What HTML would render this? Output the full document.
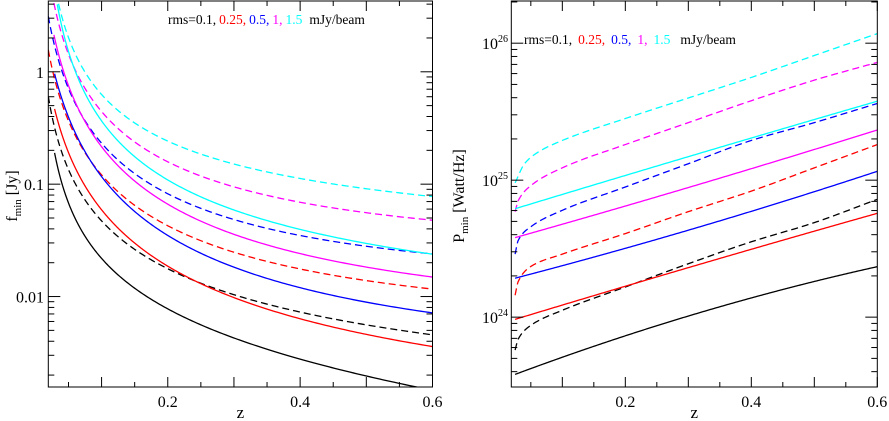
<!DOCTYPE html>
<html><head><meta charset="utf-8"><style>
html,body{margin:0;padding:0;background:#fff}
svg{display:block;font-family:"Liberation Serif",serif}
</style></head><body>
<svg id="chart" width="889" height="421" viewBox="0 0 889 421" xmlns="http://www.w3.org/2000/svg">
<defs>
<clipPath id="clipL"><rect x="48" y="1" width="384.5" height="386"/></clipPath>
<clipPath id="clipR"><rect x="511" y="1" width="366.5" height="386"/></clipPath>
</defs>
<g id="left"></g>
<g id="right"></g>
</svg>
<script>
// ---- Left panel data: log10 f_min [Jy] vs z ----
const colors = ['black','red','blue','magenta','cyan'];
const rmsLabels = ['0.1','0.25','0.5','1','1.5'];
const zL_a = [0.067,0.1,0.173,0.279,0.37,0.5,0.6];
const L_blackSolidZ = [0.029].concat(zL_a);
const L_blackSolid = [-0.716,-1.396,-1.678,-1.973,-2.299,-2.559,-2.728,-2.802];
const L_blackDashZ = [0.0195].concat(zL_a);
const L_blackDash = [-0.213,-1.101,-1.322,-1.589,-1.973,-2.145,-2.254,-2.314];
const L_redSolidZ = [0.029].concat(zL_a);
const L_redSolid = [-0.317,-1.0,-1.189,-1.559,-1.997,-2.186,-2.343,-2.417];
const L_redDashZ = [0.0195].concat(zL_a);
const L_redDash = [0.201,-0.701,-0.864,-1.234,-1.604,-1.746,-1.855,-1.914];
const L_blueSolidZ = [0.029].concat(zL_a);
const L_blueSolid = [-0.006,-0.686,-0.879,-1.322,-1.716,-1.885,-2.068,-2.121];
const L_blueDashZ = [0.0195].concat(zL_a);
const L_blueDash = [0.497,-0.391,-0.598,-0.982,-1.299,-1.426,-1.553,-1.612];
const L_magSolidZ = [0.028].concat(zL_a);
const L_magSolid = [0.334,-0.391,-0.627,-1.071,-1.411,-1.583,-1.737,-1.820];
const L_magDashZ = [0.028].concat(zL_a);
const L_magDash = [0.615,-0.095,-0.317,-0.716,-1.003,-1.115,-1.263,-1.314];
const L_cyanSolidZ = [0.033].concat(zL_a);
const L_cyanSolid = [0.615,-0.169,-0.361,-0.849,-1.204,-1.373,-1.530,-1.609];
const L_cyanDashZ = [0.035].concat(zL_a);
const L_cyanDash = [0.615,0.038,-0.169,-0.524,-0.790,-0.932,-1.050,-1.095];
const L_yTickLabels = ['0.01','0.1','1'];
const L_yTickLogs = [-2,-1,0];

// ---- Right panel data: log10 P_min [W/Hz] vs z ----
const zR_a = [0.1,0.2,0.3,0.4,0.5,0.6];
const R_cyanDashZ = [0.025,0.04,0.06].concat(zR_a);
const R_cyanDash = [24.98,25.12,25.20,25.29,25.45,25.60,25.75,25.91,26.07];
const R_magDashZ = [0.025,0.03,0.05].concat(zR_a);
const R_magDash = [24.77,24.85,24.96,25.09,25.26,25.42,25.58,25.73,25.86];
const R_cyanSolidZ = [0.025].concat(zR_a);
const R_cyanSolid = [24.80,24.89,25.02,25.18,25.31,25.45,25.57];
const R_blueDashZ = [0.025,0.03,0.05].concat(zR_a);
const R_blueDash = [24.46,24.56,24.66,24.78,24.95,25.12,25.29,25.42,25.56];
const R_magSolidZ = [0.025].concat(zR_a);
const R_magSolid = [24.59,24.67,24.80,24.95,25.09,25.23,25.36];
const R_redDashZ = [0.025,0.03,0.05].concat(zR_a);
const R_redDash = [24.16,24.26,24.37,24.46,24.61,24.77,24.92,25.09,25.26];
const R_blueSolidZ = [0.025].concat(zR_a);
const R_blueSolid = [24.29,24.37,24.50,24.63,24.78,24.92,25.06];
const R_blackDashZ = [0.025,0.03,0.05].concat(zR_a);
const R_blackDash = [23.76,23.84,23.94,24.05,24.22,24.39,24.55,24.69,24.86];
const R_redSolidZ = [0.025].concat(zR_a);
const R_redSolid = [23.99,24.08,24.22,24.37,24.50,24.62,24.76];
const R_blackSolidZ = [0.025].concat(zR_a);
const R_blackSolid = [23.59,23.70,23.86,24.00,24.15,24.27,24.36];
const R_yTickExps = [24,25,26];
const xTickLabels = ['0.2','0.4','0.6'];

const NS='http://www.w3.org/2000/svg';
function mk(tag, attrs, parent){const e=document.createElementNS(NS,tag);for(const k in attrs)e.setAttribute(k,attrs[k]);parent.appendChild(e);return e;}

// least-squares polynomial fit of value vs log10(z) (logx) or z, sampled densely
function fitSamples(zs, vs, N, deg, logx){
  const fw=logx?(z=>Math.log10(z)):(z=>z), bw=logx?(u=>Math.pow(10,u)):(u=>u);
  const u=zs.map(fw);
  const n=deg+1;
  const A=[];for(let i=0;i<n;i++){A.push(new Array(n+1).fill(0));}
  for(let k=0;k<u.length;k++){
    for(let i=0;i<n;i++){
      for(let j=0;j<n;j++)A[i][j]+=Math.pow(u[k],i+j);
      A[i][n]+=vs[k]*Math.pow(u[k],i);
    }
  }
  for(let i=0;i<n;i++){
    let p=i;for(let r=i+1;r<n;r++)if(Math.abs(A[r][i])>Math.abs(A[p][i]))p=r;
    [A[i],A[p]]=[A[p],A[i]];
    for(let r=0;r<n;r++){if(r===i)continue;const f=A[r][i]/A[i][i];for(let c=i;c<=n;c++)A[r][c]-=f*A[i][c];}
  }
  const co=A.map((row,i)=>row[n]/row[i]);
  const out=[];
  const u0=u[0],u1=u[u.length-1];
  for(let k=0;k<=N;k++){
    const uu=u0+(u1-u0)*k/N;
    let v=0;for(let i=0;i<n;i++)v+=co[i]*Math.pow(uu,i);
    out.push([bw(uu),v]);
  }
  return out;
}

// monotone cubic Hermite interpolation in linear z
function interpSamples(zs, vs, nPer){
  const u=zs.slice(), n=u.length;
  const dx=[],m=[];
  for(let i=0;i<n-1;i++){dx[i]=u[i+1]-u[i];m[i]=(vs[i+1]-vs[i])/dx[i];}
  const t=[m[0]];
  for(let i=1;i<n-1;i++){ if(m[i-1]*m[i]<=0)t[i]=0; else { const w1=2*dx[i]+dx[i-1],w2=dx[i]+2*dx[i-1]; t[i]=(w1+w2)/(w1/m[i-1]+w2/m[i]); } }
  t[n-1]=m[n-2];
  const out=[[zs[0],vs[0]]];
  for(let i=0;i<n-1;i++){
    for(let k=1;k<=nPer;k++){
      const s=k/nPer, h=dx[i];
      const h00=2*s*s*s-3*s*s+1,h10=s*s*s-2*s*s+s,h01=-2*s*s*s+3*s*s,h11=s*s*s-s*s;
      out.push([u[i]+s*h,h00*vs[i]+h10*h*t[i]+h01*vs[i+1]+h11*h*t[i+1]]);
    }
  }
  return out;
}

function panel(g, P){
  const xS=z=>P.x0+(z-P.zmin)/(P.zmax-P.zmin)*(P.x1-P.x0);
  const yS=l=>P.y1-(l-P.lmin)/(P.lmax-P.lmin)*(P.y1-P.y0);
  const cg=mk('g',{'clip-path':'url(#'+P.clip+')'},g);
  
  
  P.series.forEach(s=>{
    let samp;
    if(P.fit==='all') samp=fitSamples(s.z,s.v,300,3,true);
    else if(P.fit==='solid'&&!s.dash) samp=fitSamples(s.z,s.v,300,2,false);
    else samp=interpSamples(s.z,s.v,30);
    const pts=samp.map(p=>xS(p[0]).toFixed(2)+','+yS(p[1]).toFixed(2));
    const p=mk('polyline',{points:pts.join(' '),fill:'none',stroke:s.c,'stroke-width':1.3,'stroke-dasharray':s.dash?'7,4':'none'},cg);
    
    
  });
  const fr=mk('rect',{x:P.x0,y:P.y0,width:P.x1-P.x0,height:P.y1-P.y0,fill:'none',stroke:'#000','stroke-width':1},g);
  
  
  for(let k=1;k<=12;k++){
    const z=k*0.05; if(z<P.zmin||z>P.zmax+1e-9)continue;
    const x=xS(z); const major=(k%2===0); const len=major?10:5;
    mk('line',{x1:x,y1:P.y1,x2:x,y2:P.y1-len,stroke:'#000','stroke-width':1},g);
    mk('line',{x1:x,y1:P.y0,x2:x,y2:P.y0+len,stroke:'#000','stroke-width':1},g);
  }
  xTickLabels.forEach(t=>{
    const tx=mk('text',{x:xS(parseFloat(t)),y:P.y1+20,'font-size':16,'text-anchor':'middle'},g);
    tx.textContent=t;
    
    
  });
  for(let d=Math.floor(P.lmin);d<=Math.ceil(P.lmax);d++){
    for(let m=1;m<=9;m++){
      const l=d+Math.log10(m); if(l<P.lmin||l>P.lmax)continue;
      const y=yS(l); const len=m===1?12:6;
      mk('line',{x1:P.x0,y1:y,x2:P.x0+len,y2:y,stroke:'#000','stroke-width':1},g);
      mk('line',{x1:P.x1,y1:y,x2:P.x1-len,y2:y,stroke:'#000','stroke-width':1},g);
    }
  }
  const xl=mk('text',{x:(P.x0+P.x1)/2,y:418,'font-size':17,'text-anchor':'middle'},g);
  xl.textContent='z';
  
  
  const lg=mk('text',{x:P.legX,y:P.legY,'font-size':13.5},g);
  
  
  const a=mk('tspan',{fill:'#000'},lg); a.textContent='rms=0.1,';
  for(let i=1;i<5;i++){const t=mk('tspan',{fill:colors[i],dx:P.legGap},lg);t.textContent=rmsLabels[i]+(i<4?',':'');}
  const b=mk('tspan',{fill:'#000',dx:P.legGap+4},lg); b.textContent='mJy/beam';
  return {xS,yS};
}

const L=document.getElementById('left');
const ls=panel(L,{x0:48.3,x1:432.5,y0:1,y1:387,zmin:0.0195,zmax:0.6,lmin:-2.805,lmax:0.63,clip:'clipL',legX:168,legY:24,legGap:3,fit:'all',
 series:[
  {name:'black-solid-rms-0.1',c:'#000',z:L_blackSolidZ,v:L_blackSolid},
  {name:'black-dashed-rms-0.1',c:'#000',dash:1,z:L_blackDashZ,v:L_blackDash},
  {name:'red-solid-rms-0.25',c:'red',z:L_redSolidZ,v:L_redSolid},
  {name:'red-dashed-rms-0.25',c:'red',dash:1,z:L_redDashZ,v:L_redDash},
  {name:'blue-solid-rms-0.5',c:'blue',z:L_blueSolidZ,v:L_blueSolid},
  {name:'blue-dashed-rms-0.5',c:'blue',dash:1,z:L_blueDashZ,v:L_blueDash},
  {name:'magenta-solid-rms-1',c:'magenta',z:L_magSolidZ,v:L_magSolid},
  {name:'magenta-dashed-rms-1',c:'magenta',dash:1,z:L_magDashZ,v:L_magDash},
  {name:'cyan-solid-rms-1.5',c:'cyan',z:L_cyanSolidZ,v:L_cyanSolid},
  {name:'cyan-dashed-rms-1.5',c:'cyan',dash:1,z:L_cyanDashZ,v:L_cyanDash}
 ]});
L_yTickLogs.forEach((l,i)=>{
  const t=mk('text',{x:44,y:ls.yS(l)+6,'font-size':16,'text-anchor':'end'},L);
  t.textContent=L_yTickLabels[i];
  
  
});
const ylL=mk('text',{transform:'translate(17,196) rotate(-90)','font-size':16,'text-anchor':'middle'},L);


ylL.innerHTML='f<tspan font-size="11" dy="4">min</tspan><tspan dy="-4"> [Jy]</tspan>';

const R=document.getElementById('right');
const rs=panel(R,{x0:511.3,x1:877.3,y0:1,y1:387,zmin:0.019,zmax:0.6,lmin:23.49,lmax:26.308,clip:'clipR',legX:524,legY:44,legGap:6,fit:'solid',
 series:[
  {name:'black-solid-rms-0.1',c:'#000',z:R_blackSolidZ,v:R_blackSolid},
  {name:'black-dashed-rms-0.1',c:'#000',dash:1,z:R_blackDashZ,v:R_blackDash},
  {name:'red-solid-rms-0.25',c:'red',z:R_redSolidZ,v:R_redSolid},
  {name:'red-dashed-rms-0.25',c:'red',dash:1,z:R_redDashZ,v:R_redDash},
  {name:'blue-solid-rms-0.5',c:'blue',z:R_blueSolidZ,v:R_blueSolid},
  {name:'blue-dashed-rms-0.5',c:'blue',dash:1,z:R_blueDashZ,v:R_blueDash},
  {name:'magenta-solid-rms-1',c:'magenta',z:R_magSolidZ,v:R_magSolid},
  {name:'magenta-dashed-rms-1',c:'magenta',dash:1,z:R_magDashZ,v:R_magDash},
  {name:'cyan-solid-rms-1.5',c:'cyan',z:R_cyanSolidZ,v:R_cyanSolid},
  {name:'cyan-dashed-rms-1.5',c:'cyan',dash:1,z:R_cyanDashZ,v:R_cyanDash}
 ]});
R_yTickExps.forEach(e=>{
  const t=mk('text',{x:508,y:rs.yS(e)+6,'font-size':16,'text-anchor':'end'},R);
  t.innerHTML='10<tspan font-size="10" dy="-7">'+e+'</tspan>';
  
  
});
const ylR=mk('text',{transform:'translate(464,196) rotate(-90)','font-size':16,'text-anchor':'middle'},R);


ylR.innerHTML='P<tspan font-size="11" dy="4">min</tspan><tspan dy="-4"> [Watt/Hz]</tspan>';
</script>
</body></html>
